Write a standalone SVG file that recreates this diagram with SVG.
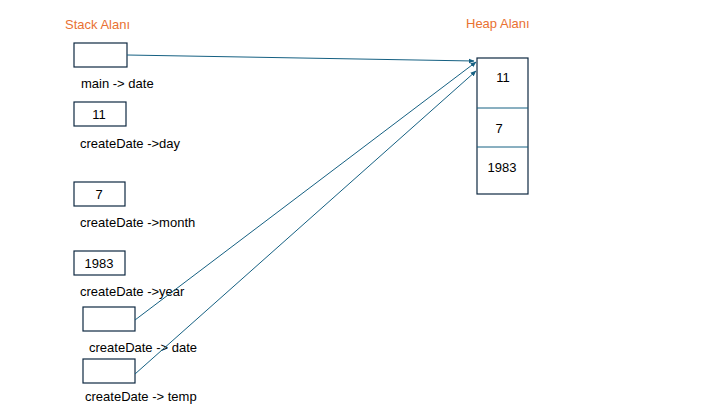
<svg xmlns="http://www.w3.org/2000/svg" width="720" height="405" viewBox="0 0 720 405">
<defs>
<style>
.box{fill:#fff;stroke:#0E2841;stroke-width:1.2}
.t{font-family:"Liberation Sans",Arial,sans-serif;font-size:13px;fill:#000}
.c{text-anchor:middle}
.title{font-family:"Liberation Sans",Arial,sans-serif;font-size:13px;fill:#E97132}
.conn{stroke:#156082;stroke-width:1;fill:none;marker-end:url(#ah)}
.div{stroke:#156082;stroke-width:1}
</style>
<marker id="ah" viewBox="0 0 10 10" refX="9" refY="5" markerWidth="6" markerHeight="6" orient="auto" markerUnits="userSpaceOnUse">
<path d="M0,1 L10,5 L0,9 Z" fill="#156082"/>
</marker>
</defs>
<rect width="720" height="405" fill="#fff"/>
<text class="title" x="65" y="29">Stack Alanı</text>
<text class="title" x="466" y="28">Heap Alanı</text>
<g id="main-date">
<rect class="box" x="74" y="43" width="53" height="24"/>
<text class="t" x="81" y="88">main -&gt; date</text>
</g>
<g id="day">
<rect class="box" x="74" y="102" width="52" height="24"/>
<text class="t c" x="99" y="119">11</text>
<text class="t" x="80" y="148">createDate -&gt;day</text>
</g>
<g id="month">
<rect class="box" x="74" y="182" width="51" height="24"/>
<text class="t c" x="99" y="199">7</text>
<text class="t" x="80" y="227">createDate -&gt;month</text>
</g>
<g id="year">
<rect class="box" x="74" y="251" width="51" height="24"/>
<text class="t c" x="99" y="268">1983</text>
<text class="t" x="80" y="296">createDate -&gt;year</text>
</g>
<g id="cd-date">
<rect class="box" x="83" y="307" width="52" height="24"/>
<text class="t" x="89" y="352">createDate -&gt; date</text>
</g>
<g id="cd-temp">
<rect class="box" x="83" y="359" width="52" height="24"/>
<text class="t" x="85" y="401">createDate -&gt; temp</text>
</g>
<g id="heap">
<rect class="box" x="477" y="58" width="51" height="136"/>
<line class="div" x1="477" y1="108" x2="528" y2="108"/>
<line class="div" x1="477" y1="147" x2="528" y2="147"/>
<text class="t c" x="503" y="82">11</text>
<text class="t c" x="499" y="133">7</text>
<text class="t c" x="502" y="172">1983</text>
</g>
<g id="connectors">
<line class="conn" x1="127" y1="55" x2="474" y2="61"/>
<line class="conn" x1="135" y1="320" x2="476" y2="62"/>
<line class="conn" x1="135" y1="374" x2="476" y2="71"/>
</g>
</svg>
